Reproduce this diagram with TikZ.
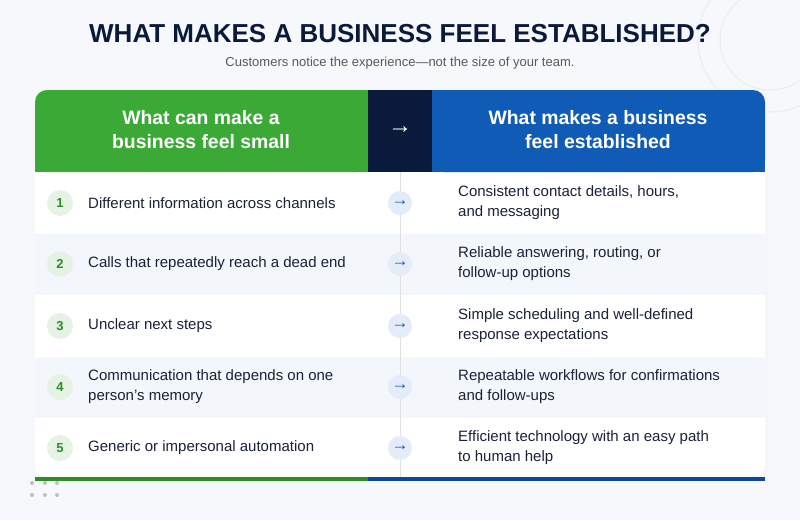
\documentclass[tikz,border=0pt]{standalone}
\usepackage{fontspec}
\setmainfont{Liberation Sans}
\begin{document}
\definecolor{bg}{HTML}{F6F8FB}
\definecolor{grn}{HTML}{3AA935}
\definecolor{dgrn}{HTML}{2E8B2A}
\definecolor{navy}{HTML}{0A1A3A}
\definecolor{blu}{HTML}{0F5BB5}
\definecolor{dblu}{HTML}{0B4A96}
\definecolor{txt}{HTML}{1A2238}
\definecolor{alt}{HTML}{F3F6FA}
\definecolor{numbg}{HTML}{E6F3E4}
\definecolor{arrbg}{HTML}{E3ECF8}
\begin{tikzpicture}[x=1pt,y=-1pt,
  hdr/.style={text=white,font=\fontsize{19.4}{24}\selectfont\bfseries,align=center},
  lt/.style={anchor=west,text=txt,font=\fontsize{15}{20}\selectfont,align=left,inner sep=0},
  num/.style={circle,fill=numbg,minimum size=26pt,inner sep=0,text=dgrn,font=\fontsize{13}{13}\selectfont\bfseries},
  arr/.style={circle,fill=arrbg,minimum size=24pt,inner sep=0,text=blu,font=\fontsize{17}{17}\selectfont}]
\fill[bg] (0,0) rectangle (800,520);
\useasboundingbox (0,0) rectangle (800,520);
\draw[black!8,line width=1pt] (770,40) circle (72);
\draw[black!8,line width=1pt] (770,40) circle (50);
\node[font=\fontsize{26}{30}\selectfont\bfseries,text=navy] (title) at (400,34) {WHAT MAKES A BUSINESS FEEL ESTABLISHED?};
\node[font=\fontsize{13}{15}\selectfont,text=black!65] (sub) at (400,63) {Customers notice the experience—not the size of your team.};
\fill[black!4] (37,93) rectangle (768,484);
\fill[white,rounded corners=12pt] (35,90) rectangle (765,478);
\fill[alt] (35,234) rectangle (765,295);
\fill[alt] (35,357) rectangle (765,418);
\fill[grn,rounded corners=12pt] (35,90) -- (368,90) -- (368,172) -- (35,172) -- cycle;
\fill[grn] (35,150) rectangle (368,172);
\fill[navy] (368,90) rectangle (432,172);
\fill[blu,rounded corners=12pt] (432,90) -- (765,90) -- (765,172) -- (432,172) -- cycle;
\fill[blu] (432,150) rectangle (765,172);
\fill[blu] (432,90) rectangle (450,172);
\fill[grn] (350,90) rectangle (368,172);
\fill[dgrn] (35,477) rectangle (368,481);
\fill[dblu] (368,477) rectangle (765,481);
\foreach \x in {32,45,57}\foreach \y in {483,495}\fill[black!25] (\x,\y) circle (2);
\draw[black!12,line width=1pt] (400,172) -- (400,477);
\node[hdr] (h1) at (201,130) {What can make a\\business feel small};
\node[text=white,font=\fontsize{24}{24}\selectfont] (h2) at (400,130) {→};
\node[hdr] (h3) at (598,130) {What makes a business\\feel established};
\foreach \i/\y/\l/\r in {
 1/203/{Different information across channels}/{Consistent contact details, hours,\\and messaging},
 2/264/{Calls that repeatedly reach a dead end}/{Reliable answering, routing, or\\follow-up options},
 3/326/{Unclear next steps}/{Simple scheduling and well-defined\\response expectations},
 4/387/{Communication that depends on one\\person's memory}/{Repeatable workflows for confirmations\\and follow-ups},
 5/448/{Generic or impersonal automation}/{Efficient technology with an easy path\\to human help}}{
 \node[num] (n\i) at (60,\y) {\i};
 \node[lt] (l\i) at (88,\y) {\l};
 \node[arr] (a\i) at (400,\y) {→};
 \node[lt] (r\i) at (458,\y) {\r};
}
\end{tikzpicture}
\end{document}
